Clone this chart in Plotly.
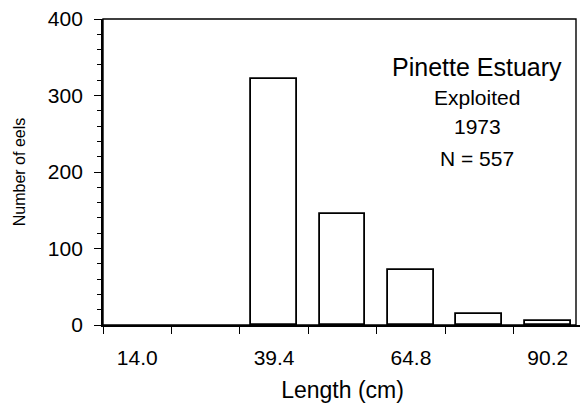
import plotly.graph_objects as go

# Data
lengths = [14.0, 26.7, 39.4, 52.1, 64.8, 77.5, 90.2]
counts = [0, 0, 321, 145, 72, 14, 5]
xtick_vals = [14.0, 39.4, 64.8, 90.2]
xtick_text = ["14.0", "39.4", "64.8", "90.2"]
title_lines = ["Pinette Estuary", "Exploited", "1973", "N = 557"]

FONT = "Liberation Sans, Arial, sans-serif"
bin_w = 12.7

fig = go.Figure()
fig.add_trace(go.Bar(
    x=lengths, y=counts, width=bin_w * 0.67,
    marker=dict(color="white",
                line=dict(color="black", width=[1.8 if c > 0 else 0 for c in counts])),
    showlegend=False,
))

x_lo = lengths[0] - bin_w / 2
x_hi = lengths[-1] + bin_w / 2

fig.update_layout(
    width=580, height=395,
    margin=dict(l=95, r=6, t=11, b=78, autoexpand=False),
    paper_bgcolor="white", plot_bgcolor="white",
    font=dict(family=FONT, color="black"),
    bargap=0,
    xaxis=dict(
        range=[x_lo, x_hi], automargin=False,
        tickmode="array", tickvals=xtick_vals, ticktext=xtick_text,
        ticks="", ticklen=0,
        tickfont=dict(size=21, family=FONT),
        ticklabeloverflow="allow",
        showline=True, linecolor="black", linewidth=1.8, mirror=False,
        showgrid=False, zeroline=False,
        minor=dict(ticks="outside", ticklen=7, tickwidth=1.3, tickcolor="black",
                   tick0=x_lo, dtick=bin_w, showgrid=False),
        ticklabelstandoff=13,
        title=dict(text="Length (cm)", font=dict(size=23, family=FONT), standoff=14),
    ),
    yaxis=dict(
        range=[0, 400], automargin=False,
        tickmode="linear", tick0=0, dtick=100,
        ticks="outside", ticklen=7, tickwidth=1.3, tickcolor="black",
        tickfont=dict(size=21, family=FONT),
        ticklabeloverflow="allow",
        showline=True, linecolor="black", linewidth=1.8, mirror=False,
        showgrid=False, zeroline=False,
        minor=dict(ticks="outside", ticklen=4, tickwidth=1, tickcolor="black",
                   dtick=20, showgrid=False),
        ticklabelstandoff=7,
        title=dict(text="Number of eels", font=dict(size=16, family=FONT), standoff=18),
    ),
)

# frame (top and right edges); right edge kept inside the visible window area
frame_right = (576 - 8 - 95) / 479
fig.add_shape(type="rect", xref="paper", yref="paper", x0=0, x1=frame_right, y0=0, y1=1,
              line=dict(color="black", width=1.4), fillcolor="rgba(0,0,0,0)", layer="above")

ann_y = [337, 298, 260, 218]
ann_size = [25, 21, 21, 21]
for txt, yy, sz in zip(title_lines, ann_y, ann_size):
    fig.add_annotation(x=77.1, y=yy, xref="x", yref="y", text=txt, showarrow=False,
                       font=dict(size=sz, family=FONT, color="black"),
                       xanchor="center", yanchor="middle")

fig.write_html("out.html")
